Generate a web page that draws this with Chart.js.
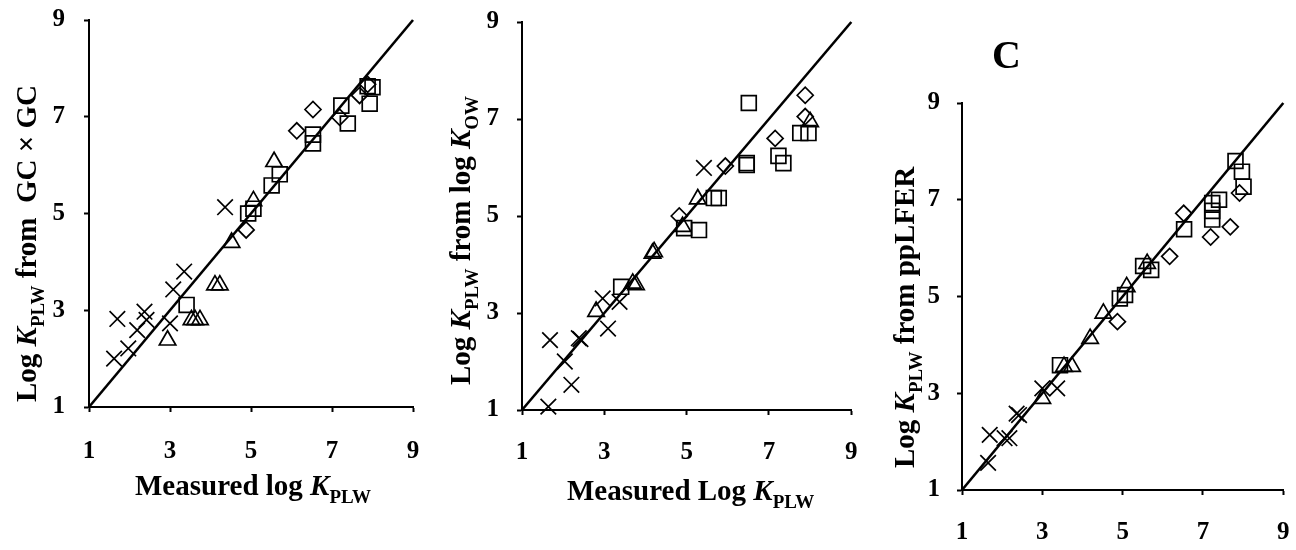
<!DOCTYPE html>
<html><head><meta charset="utf-8">
<script src="https://cdn.jsdelivr.net/npm/chart.js@4.4.0/dist/chart.umd.min.js"></script>
<style>
html,body{margin:0;padding:0;background:#fff;width:1296px;height:550px;overflow:hidden;}
.panel{position:absolute;top:0;width:432px;height:550px;}
</style></head><body>
<div class="panel" style="left:0"><canvas id="cA" width="432" height="550"></canvas></div>
<div class="panel" style="left:432px"><canvas id="cB" width="432" height="550"></canvas></div>
<div class="panel" style="left:864px"><canvas id="cC" width="432" height="550"></canvas></div>
<script>
// ---- data (measured log K_PLW, predicted log K_PLW) ----
const tickValues = [1, 3, 5, 7, 9];
const oneToOne = [1, 9];

// Panel A: predicted from GC x GC
const gcCross = [[1.62,2.0],[1.70,2.82],[1.97,2.21],[2.19,2.59],[2.37,2.97],[2.42,2.80],[3.0,2.73],[3.08,3.43],[3.35,3.80],[4.36,5.13]];
const gcTriangle = [[2.94,2.38],[3.53,2.80],[3.62,2.80],[3.74,2.80],[4.11,3.52],[4.23,3.52],[4.52,4.40],[5.06,5.26],[5.57,6.07]];
const gcSquare = [[3.41,3.11],[4.93,5.0],[5.06,5.10],[5.51,5.58],[5.71,5.81],[6.53,6.63],[6.53,6.45],[7.23,7.23],[7.39,6.86],[7.88,7.63],[8.0,7.61],[7.93,7.27]];
const gcDiamond = [[4.88,4.66],[6.13,6.71],[6.53,7.15],[7.19,6.99],[7.68,7.44],[7.88,7.67]];

// Panel B: predicted from log K_OW
const owCross = [[1.64,1.07],[1.68,2.44],[2.04,2.0],[2.2,1.52],[2.38,2.48],[2.42,2.46],[2.96,3.30],[3.09,2.68],[3.37,3.23],[5.42,5.99]];
const owTriangle = [[2.80,3.03],[3.69,3.61],[3.77,3.58],[4.17,4.23],[4.21,4.26],[4.90,4.78],[5.27,5.35],[8.0,6.94]];
const owSquare = [[3.41,3.54],[4.94,4.75],[5.30,4.71],[5.66,5.37],[5.78,5.37],[6.46,6.09],[6.46,6.05],[6.51,7.33],[7.23,6.24],[7.35,6.09],[7.76,6.71],[7.96,6.71]];
const owDiamond = [[4.82,5.0],[5.94,6.03],[7.15,6.60],[7.88,7.49],[7.88,7.05]];

// Panel C: predicted from ppLFER
const ppCross = [[1.65,1.56],[1.69,2.14],[2.06,2.07],[2.18,2.07],[2.36,2.58],[2.42,2.55],[3.0,3.10],[3.37,3.10]];
const ppTriangle = [[3.0,2.89],[3.54,3.55],[3.74,3.55],[4.19,4.13],[4.52,4.65],[5.10,5.20],[5.61,5.68]];
const ppSquare = [[3.44,3.58],[4.93,4.96],[5.06,5.03],[5.51,5.63],[5.71,5.55],[6.53,6.39],[7.23,6.59],[7.23,6.77],[7.23,6.93],[7.40,7.0],[7.81,7.80],[7.97,7.58],[8.01,7.27]];
const ppDiamond = [[4.87,4.48],[6.17,5.83],[6.52,6.72],[7.19,6.23],[7.68,6.44],[7.91,7.14]];

// ---- drawing ----
const FAM = "'Liberation Serif','Times New Roman',serif";
const BIG = "bold 29px " + FAM;
const ITAL = "italic bold 29px " + FAM;
const SUB = "bold 19px " + FAM;

const richText = {
  id: 'richText',
  afterDraw(chart, args, opts) {
    const ctx = chart.ctx;
    (opts.items || []).forEach(it => {
      ctx.save();
      ctx.translate(it.x, it.y);
      ctx.rotate(it.rot || 0);
      ctx.textBaseline = 'alphabetic';
      ctx.textAlign = 'left';
      ctx.fillStyle = '#000';
      let cx = 0;
      it.segs.forEach(s => {
        ctx.font = s.f;
        ctx.fillText(s.t, cx, s.dy || 0);
        cx += ctx.measureText(s.t).width;
      });
      ctx.restore();
    });
  }
};

function pts(arr) { return arr.map(p => ({x: p[0], y: p[1]})); }
function ds(arr, style, r) {
  return {data: pts(arr), pointStyle: style, pointRadius: r, pointHoverRadius: r,
    pointBorderColor: '#000', pointBackgroundColor: 'rgba(0,0,0,0)', pointBorderWidth: 1.7,
    showLine: false, clip: false};
}
function axis(tickPad, size) {
  return {
    type: 'linear', min: 1, max: 9,
    afterBuildTicks: s => { s.ticks = tickValues.map(v => ({value: v})); },
    ticks: {color: '#000', padding: tickPad, font: {family: FAM, size: 25, weight: 'bold'}},
    grid: {drawOnChartArea: false, color: '#000', tickColor: '#000', tickLength: 5, tickWidth: 2},
    border: {display: true, color: '#000', width: 2},
    afterFit: s => {
      if (s.isHorizontal()) s.height = size; else s.width = size;
      s.paddingTop = 0; s.paddingBottom = 0; s.paddingLeft = 0; s.paddingRight = 0;
    }
  };
}
function makeChart(id, series, cfg) {
  new Chart(document.getElementById(id), {
    type: 'scatter',
    data: {datasets: [
      {type: 'line', data: oneToOne.map(v => ({x: v, y: v})), borderColor: '#000', borderWidth: 2.6,
       pointRadius: 0, fill: false, clip: false},
      ds(series[0], 'crossRot', 11),
      ds(series[1], 'triangle', 9.5),
      ds(series[2], 'rect', 10.5),
      ds(series[3], 'rectRot', 8)
    ]},
    options: {
      responsive: false, animation: false, events: [],
      layout: {padding: {left: 0, right: cfg.pr, top: cfg.pt, bottom: 0}},
      plugins: {legend: {display: false}, tooltip: {enabled: false}, richText: {items: cfg.texts}},
      scales: {
        x: axis(cfg.xPad, cfg.xh),
        y: axis(cfg.yPad, cfg.yw)
      }
    },
    plugins: [richText]
  });
}

makeChart('cA', [gcCross, gcTriangle, gcSquare, gcDiamond], {
  pr: 19, pt: 20, yw: 89, xh: 143, xPad: 25, yPad: 19,
  texts: [
    {x: 135, y: 495, segs: [{t: 'Measured log ', f: BIG}, {t: 'K', f: ITAL}, {t: 'PLW', f: SUB, dy: 8}]},
    {x: 36, y: 402, rot: -Math.PI / 2, segs: [{t: 'Log ', f: BIG}, {t: 'K', f: ITAL}, {t: 'PLW', f: SUB, dy: 8}, {t: ' from  GC \u00d7 GC', f: BIG}]}
  ]
});
makeChart('cB', [owCross, owTriangle, owSquare, owDiamond], {
  pr: 11, pt: 22, yw: 90, xh: 140, xPad: 23, yPad: 18,
  texts: [
    {x: 135, y: 500, segs: [{t: 'Measured Log ', f: BIG}, {t: 'K', f: ITAL}, {t: 'PLW', f: SUB, dy: 8}]},
    {x: 38, y: 385, rot: -Math.PI / 2, segs: [{t: 'Log ', f: BIG}, {t: 'K', f: ITAL}, {t: 'PLW', f: SUB, dy: 8}, {t: ' from log ', f: BIG}, {t: 'K', f: ITAL}, {t: 'OW', f: SUB, dy: 8}]}
  ]
});
makeChart('cC', [ppCross, ppTriangle, ppSquare, ppDiamond], {
  pr: 9, pt: 103, yw: 98, xh: 60, xPad: 23, yPad: 17,
  texts: [
    {x: 128, y: 68, segs: [{t: 'C', f: "bold 40px " + FAM}]},
    {x: 50, y: 468, rot: -Math.PI / 2, segs: [{t: 'Log ', f: BIG}, {t: 'K', f: ITAL}, {t: 'PLW', f: SUB, dy: 8}, {t: ' from ppLFER', f: BIG}]}
  ]
});
</script>
</body></html>
